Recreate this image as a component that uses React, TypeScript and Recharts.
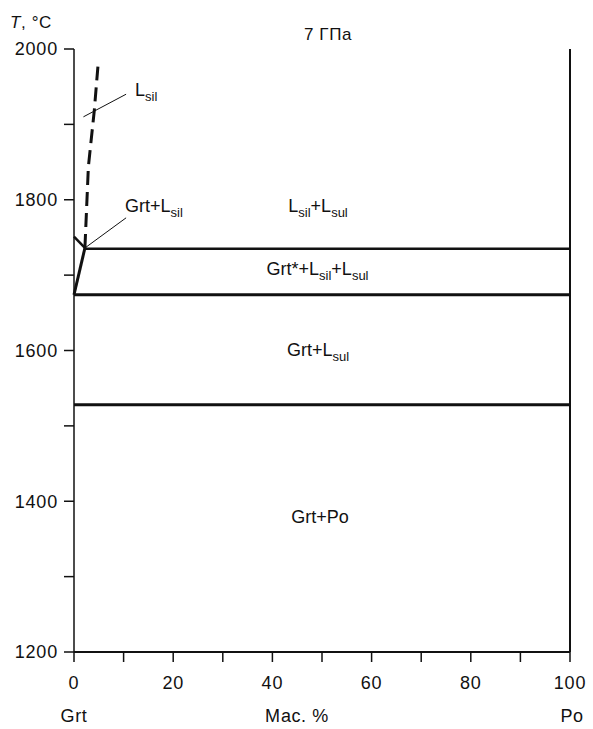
import React from "react";
import {
  ComposedChart,
  Line,
  XAxis,
  YAxis,
  ReferenceDot,
} from "recharts";

const FONT = "'Liberation Sans', Arial, Helvetica, sans-serif";
const INK = "#111";

// axis ticks
const compTicks = [0, 10, 20, 30, 40, 50, 60, 70, 80, 90, 100];
const tempTicks = [1200, 1300, 1400, 1500, 1600, 1700, 1800, 1900, 2000];

// phase boundaries, x = mass %, T = °C
const silLiquidus = [
  { x: 2.2, T: 1736 },
  { x: 2.9, T: 1844 },
  { x: 4.1, T: 1919 },
  { x: 4.9, T: 1983 },
];
const grtSolidus = [
  { x: 0, T: 1674 },
  { x: 2.2, T: 1736 },
];
const grtKink = [
  { x: 0, T: 1751 },
  { x: 2.2, T: 1736 },
];
const upperIsotherm = [
  { x: 2.2, T: 1735 },
  { x: 100, T: 1735 },
];
const middleIsotherm = [
  { x: 0, T: 1674 },
  { x: 100, T: 1674 },
];
const lowerIsotherm = [
  { x: 0, T: 1528 },
  { x: 100, T: 1528 },
];
const poBoundary = [
  { x: 100, T: 1200 },
  { x: 100, T: 2000 },
];
const leaderLsil = [
  { x: 1.9, T: 1910 },
  { x: 10.5, T: 1940 },
];
const leaderGrtLsil = [
  { x: 2.2, T: 1736 },
  { x: 10.5, T: 1776 },
];

// field labels: [text, subscript?]
type Part = [string, boolean];
const phaseLabels: { x: number; T: number; anchor: "start" | "middle"; parts: Part[] }[] = [
  { x: 12.3, T: 1937, anchor: "start", parts: [["L", false], ["sil", true]] },
  { x: 10.3, T: 1784, anchor: "start", parts: [["Grt+L", false], ["sil", true]] },
  { x: 49.2, T: 1784, anchor: "middle", parts: [["L", false], ["sil", true], ["+L", false], ["sul", true]] },
  {
    x: 49.1,
    T: 1700,
    anchor: "middle",
    parts: [["Grt*+L", false], ["sil", true], ["+L", false], ["sul", true]],
  },
  { x: 49.2, T: 1593, anchor: "middle", parts: [["Grt+L", false], ["sul", true]] },
  { x: 49.6, T: 1371, anchor: "middle", parts: [["Grt+Po", false]] },
];

function PhaseText(props: any) {
  const { viewBox, parts, anchor } = props;
  const x = viewBox.x + (viewBox.width || 0) / 2;
  const y = viewBox.y + (viewBox.height || 0) / 2;
  let shift = 0;
  return (
    <text x={x} y={y} textAnchor={anchor} fontFamily={FONT} fontSize={18} fill={INK}>
      {parts.map(([t, sub]: Part, i: number) => {
        const target = sub ? 5 : 0;
        const dy = target - shift;
        shift = target;
        return (
          <tspan key={i} dy={dy} fontSize={sub ? 13 : 18}>
            {t}
          </tspan>
        );
      })}
    </text>
  );
}

function boundary(data: { x: number; T: number }[], width: number, dash?: string) {
  return (
    <Line
      data={data}
      dataKey="T"
      type="linear"
      stroke={INK}
      strokeWidth={width}
      strokeDasharray={dash}
      dot={false}
      activeDot={false}
      isAnimationActive={false}
      legendType="none"
    />
  );
}

const tickStyle = { fontFamily: FONT, fontSize: 18, fill: INK, letterSpacing: 0.8 };

export default function App() {
  return (
    <div style={{ position: "absolute", left: 0, top: 0, width: 593, height: 729, background: "#fff" }}>
      <ComposedChart width={593} height={729} margin={{ top: 49, right: 23, bottom: 37, left: 14 }}>
        <XAxis
          type="number"
          dataKey="x"
          domain={[0, 100]}
          ticks={compTicks}
          interval={0}
          tickSize={10}
          tickMargin={14}
          tickFormatter={(v: number) => (v % 20 === 0 ? String(v) : "")}
          axisLine={{ stroke: INK, strokeWidth: 2 }}
          tickLine={{ stroke: INK, strokeWidth: 1.5 }}
          tick={tickStyle}
          height={40}
          allowDuplicatedCategory
        />
        <YAxis
          type="number"
          domain={[1200, 2000]}
          ticks={tempTicks}
          interval={0}
          tickSize={10}
          tickMargin={6}
          tickFormatter={(v: number) => (v % 200 === 0 ? String(v) : "")}
          axisLine={{ stroke: INK, strokeWidth: 1.5 }}
          tickLine={{ stroke: INK, strokeWidth: 1.5 }}
          tick={tickStyle}
          width={60}
        />
        {boundary(poBoundary, 2)}
        {boundary(lowerIsotherm, 3)}
        {boundary(middleIsotherm, 3)}
        {boundary(upperIsotherm, 2.5)}
        {boundary(grtSolidus, 3)}
        {boundary(grtKink, 2.5)}
        {boundary(silLiquidus, 3, "14 7")}
        {boundary(leaderLsil, 1)}
        {boundary(leaderGrtLsil, 1)}
        {phaseLabels.map((l, i) => (
          <ReferenceDot
            key={i}
            x={l.x}
            y={l.T}
            r={0}
            stroke="none"
            fill="none"
            ifOverflow="visible"
            label={(p: any) => <PhaseText {...p} parts={l.parts} anchor={l.anchor} />}
          />
        ))}
      </ComposedChart>

      <div style={{ ...overlay, left: 328, top: 34, fontSize: 17 }}>7 ГПа</div>
      <div style={{ ...overlay, left: 31, top: 22, fontSize: 17 }}>
        <i>T</i>, °C
      </div>
      <div style={{ ...overlay, left: 74, top: 716 }}>Grt</div>
      <div style={{ ...overlay, left: 297, top: 716 }}>Мас. %</div>
      <div style={{ ...overlay, left: 572, top: 716 }}>Po</div>
    </div>
  );
}

const overlay: React.CSSProperties = {
  position: "absolute",
  transform: "translate(-50%, -50%)",
  fontFamily: FONT,
  fontSize: 18,
  color: INK,
  lineHeight: 1,
  whiteSpace: "nowrap",
  letterSpacing: 0.6,
};
